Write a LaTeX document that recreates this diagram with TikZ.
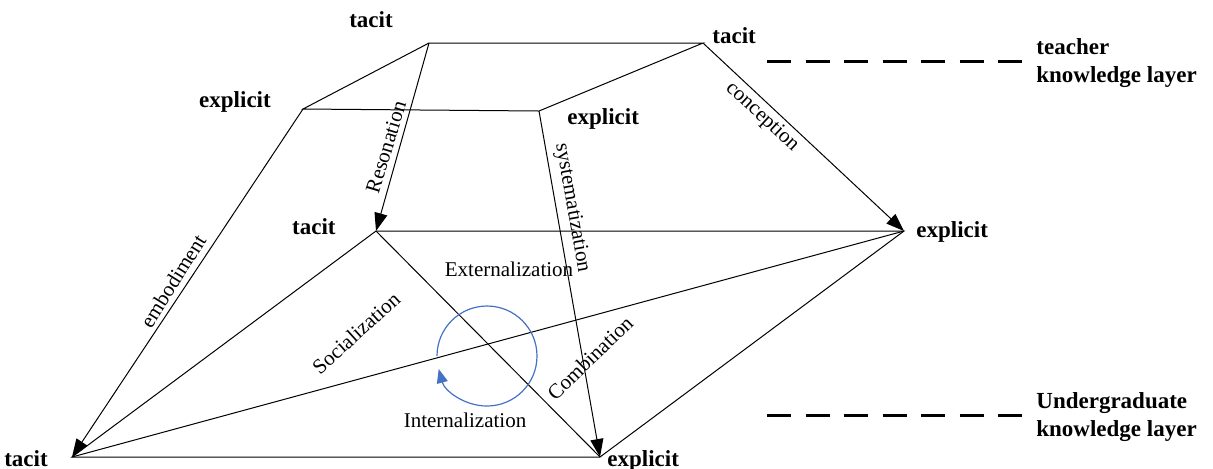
\documentclass[tikz,border=0pt]{standalone}
\usepackage{fontspec}
\setmainfont{Liberation Serif}
\usetikzlibrary{arrows.meta}
\definecolor{cycleblue}{HTML}{4472C4}

\begin{document}
\begin{tikzpicture}[x=0.5pt,y=-0.5pt,
		edge/.style={line width=0.5pt},
		flow/.style={edge,-{Triangle[length=9pt,width=6.5pt]}},
		kind/.style={font=\fontsize{11.5}{14}\selectfont\bfseries,inner sep=0pt},
		act/.style={font=\fontsize{10.5}{12}\selectfont,inner sep=0pt},
		layerline/.style={line width=1.5pt,dash pattern=on 12pt off 7.25pt},
		layertext/.style={kind,align=left,anchor=west}]
			\useasboundingbox (0,0) rectangle (1213,468);
			% corners of the teacher layer
			\coordinate (tt1) at (429,43);
			\coordinate (tt2) at (703,43);
			\coordinate (te1) at (303,109);
			\coordinate (te2) at (539,111);
			% corners of the undergraduate layer
			\coordinate (st1) at (376,231);
			\coordinate (se1) at (904,231);
			\coordinate (st2) at (72,457);
			\coordinate (se2) at (600,457);
			% corner labels
			\node[kind,anchor=base] (ltt1) at (371,27) {tacit};
			\node[kind,anchor=base west] (ltt2) at (712,43) {tacit};
			\node[kind,anchor=base] (lte1) at (235,107) {explicit};
			\node[kind,anchor=base west] (lte2) at (567,124) {explicit};
			\node[kind,anchor=base east] (lst1) at (336,234) {tacit};
			\node[kind,anchor=base west] (lse1) at (916,237) {explicit};
			\node[kind,anchor=base] (lst2) at (26,466) {tacit};
			\node[kind,anchor=base west] (lse2) at (607,466) {explicit};
			% teacher layer
			\draw[edge] (tt1) -- (tt2) -- (te2) -- (te1) -- cycle;
			% undergraduate layer
			\draw[edge] (st1) -- (se1) -- (se2) -- (st2) -- cycle;
			\draw[edge] (st1) -- (se2);
			\draw[edge] (st2) -- (se1);
			% between the layers
			\draw[flow] (tt1) -- (st1);
			\draw[flow] (tt2) -- (se1);
			\draw[flow] (te1) -- (st2);
			\draw[flow] (te2) -- (se2);
			% edge labels
			\node[act,rotate=73] (resonation) at (386,147) {Resonation};
			\node[act,rotate=-43] (conception) at (762,117) {conception};
			\node[act,rotate=58] (embodiment) at (173,281) {embodiment};
			\node[act,rotate=-80] (systematization) at (572,208) {systematization};
			\node[act] (externalization) at (509,269) {Externalization};
			\node[act,rotate=42] (socialization) at (356,333) {Socialization};
			\node[act,rotate=44] (combination) at (590,358) {Combination};
			\node[act] (internalization) at (465,420) {Internalization};
			% the cycle
			\coordinate (hub) at (487,356);
			\draw[cycleblue,line width=0.6pt,-{Triangle[length=7pt,width=5.5pt]}]
				(hub) ++(-25pt,0) arc[start angle=180,end angle=-165,radius=25pt];
			% layers
			\coordinate (up1) at (767,61);
			\coordinate (up2) at (1022,61);
			\coordinate (lo1) at (767,415);
			\coordinate (lo2) at (1022,415);
			\draw[layerline] (up1) -- (up2);
			\draw[layerline] (lo1) -- (lo2);
			\node[layertext] (teacher) at (1036,63) {teacher\\knowledge layer};
			\node[layertext] (undergrad) at (1036,417) {Undergraduate\\knowledge layer};
		\end{tikzpicture}
\end{document}
